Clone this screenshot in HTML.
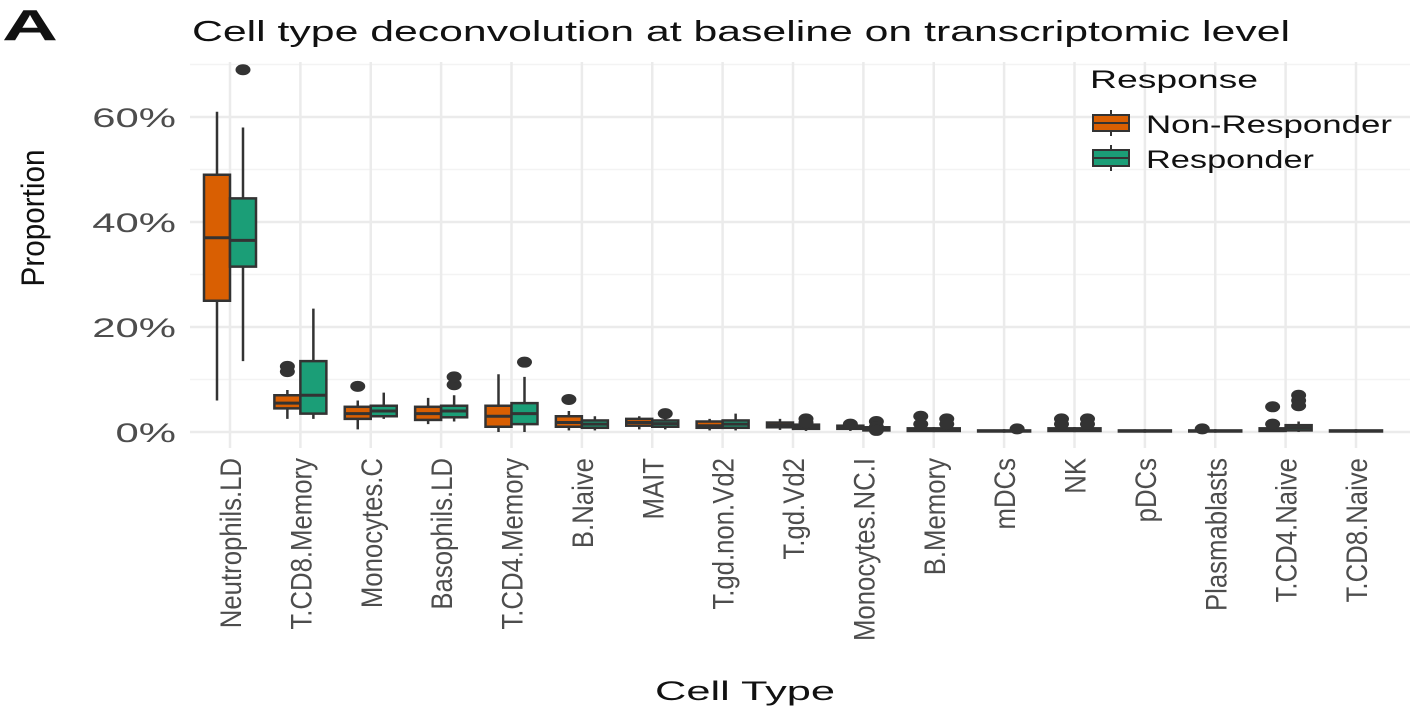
<!DOCTYPE html>
<html><head><meta charset="utf-8"><style>
body{margin:0;background:#fff;}
svg{display:block;font-family:"Liberation Sans",sans-serif;}
</style></head><body>
<svg id="c" width="1414" height="710">
<text x="2" y="40" font-size="44" font-weight="bold" fill="#111" textLength="56" lengthAdjust="spacingAndGlyphs">A</text>
<text x="192" y="41" font-size="29" fill="#111" textLength="1098" lengthAdjust="spacingAndGlyphs">Cell type deconvolution at baseline on transcriptomic level</text>
<text x="0" y="0" font-size="27" fill="#111" transform="translate(44,218) rotate(-90) scale(1.1,1.2)" text-anchor="middle">Proportion</text>
<text x="655" y="700" font-size="27" fill="#111" textLength="180" lengthAdjust="spacingAndGlyphs">Cell Type</text>
<g id="grid"></g><g id="marks"></g><g id="labels"></g>
<g>
<text x="1090" y="88" font-size="25" fill="#111" textLength="168" lengthAdjust="spacingAndGlyphs">Response</text>
<g>
<line x1="1111" y1="110" x2="1111" y2="136" stroke="#333" stroke-width="2"/>
<rect x="1093" y="115" width="36" height="16" fill="#D95F02" stroke="#333" stroke-width="2"/>
<line x1="1093" y1="123" x2="1129" y2="123" stroke="#333" stroke-width="2"/>
<text x="1146" y="133" font-size="25" fill="#111" textLength="246" lengthAdjust="spacingAndGlyphs">Non-Responder</text></g>
<g>
<line x1="1111" y1="145" x2="1111" y2="171" stroke="#333" stroke-width="2"/>
<rect x="1093" y="150" width="36" height="16" fill="#1B9E77" stroke="#333" stroke-width="2"/>
<line x1="1093" y1="158" x2="1129" y2="158" stroke="#333" stroke-width="2"/>
<text x="1146" y="168" font-size="25" fill="#111" textLength="168" lengthAdjust="spacingAndGlyphs">Responder</text></g>
</g>
</svg>
<script>
const categories=["Neutrophils.LD","T.CD8.Memory","Monocytes.C","Basophils.LD","T.CD4.Memory","B.Naive","MAIT","T.gd.non.Vd2","T.gd.Vd2","Monocytes.NC.I","B.Memory","mDCs","NK","pDCs","Plasmablasts","T.CD4.Naive","T.CD8.Naive"];
const yTicks=[0,20,40,60];
const yTickLabels=["0%","20%","40%","60%"];
// [whiskerLow, q1, median, q3, whiskerHigh]
const nonResponder=[[6,25,37,49,61],[2.5,4.5,5.5,7,8],[0.5,2.5,3.5,4.8,6],[1.5,2.3,3.5,4.8,6.5],[0,1,3,5,11],[0.3,1,1.8,3,4],[0.5,1.2,1.8,2.5,3],[0.3,0.8,1.2,2,2.5],[0.4,0.9,1.3,1.8,2.5],[0.2,0.6,0.9,1.2,1.5],[0,0.2,0.4,0.7,1],[0,0.1,0.2,0.3,0.4],[0,0.2,0.4,0.7,1],[0,0.1,0.2,0.3,0.4],[0,0.1,0.2,0.3,0.4],[0,0.2,0.4,0.7,1],[0,0.1,0.2,0.3,0.4]];
const responder=[[13.5,31.5,36.5,44.5,58],[2.5,3.5,7,13.5,23.5],[2.5,3,4,5,7.5],[2,2.8,4,5,7],[0,1.5,3.5,5.5,10.5],[0.3,0.8,1.5,2.2,3],[0.5,1,1.6,2.2,3.5],[0.3,0.8,1.5,2.2,3.5],[0.2,0.6,1,1.4,2],[0,0.3,0.6,0.9,1.2],[0,0.2,0.4,0.7,1],[0,0.1,0.2,0.3,0.4],[0,0.2,0.4,0.7,1],[0,0.1,0.2,0.3,0.4],[0,0.1,0.2,0.3,0.4],[0,0.3,0.8,1.3,2],[0,0.1,0.2,0.3,0.4]];
const nonResponderOutliers=[[],[11.5,12.5],[8.7],[],[],[6.2],[],[],[],[1.5],[3,1.5],[],[2.5,1.5],[],[0.6],[4.8,1.5],[]];
const responderOutliers=[[69],[],[],[9,10.5],[13.3],[],[3.5],[],[2.5,1.8],[2,1,0.3],[2.5,1.5],[0.6],[2.5,1.5],[],[],[7,6,5],[]];
const NS="http://www.w3.org/2000/svg";
const x0=190,x1=1410,yTop=62,yBot=448;
function y(v){return 432-v*5.25;}
function xc(i){return 230+i*(1356-230)/(categories.length-1);}
function mk(t,a,p){const e=document.createElementNS(NS,t);for(const k in a)e.setAttribute(k,a[k]);p.appendChild(e);return e;}
const grid=document.getElementById('grid'),marks=document.getElementById('marks'),labels=document.getElementById('labels');
for(let v=10;v<=70;v+=20){const g=mk('line',{x1:x0,x2:x1,y1:y(v),y2:y(v),stroke:'#f3f3f3','stroke-width':1.5},grid);

}
yTicks.forEach((v,i)=>{const g=mk('line',{x1:x0,x2:x1,y1:y(v),y2:y(v),stroke:'#ebebeb','stroke-width':2.5},grid);


const t=mk('text',{x:0,y:0,'font-size':27,fill:'#4d4d4d','text-anchor':'end',transform:`translate(176,${y(v)+10}) scale(1.55,1)`},labels);t.textContent=yTickLabels[i];

});
categories.forEach((c,i)=>{const g=mk('line',{x1:xc(i),x2:xc(i),y1:yTop,y2:yBot,stroke:'#ebebeb','stroke-width':2.5},grid);


const t=mk('text',{x:0,y:0,'font-size':25,fill:'#4d4d4d','text-anchor':'end',transform:`translate(${xc(i)+11},458) rotate(-90) scale(1.03,1.2)`},labels);t.textContent=c;

});
function box(cx,d,col,outs,name){const w=26,l=cx-w/2;
const g=mk('g',{},marks);


mk('line',{x1:cx,x2:cx,y1:y(d[0]),y2:y(d[4]),stroke:'#333','stroke-width':2.5},g);
mk('rect',{x:l,y:y(d[3]),width:w,height:Math.max(1,y(d[1])-y(d[3])),fill:col,stroke:'#333','stroke-width':2.5},g);
mk('line',{x1:l,x2:l+w,y1:y(d[2]),y2:y(d[2]),stroke:'#333','stroke-width':3},g);
outs.forEach(o=>mk('ellipse',{cx:cx,cy:y(o),rx:7.5,ry:5.5,fill:'#333'},g));}
categories.forEach((c,i)=>{
box(xc(i)-13,nonResponder[i],'#D95F02',nonResponderOutliers[i],'box-non-responder-'+c);
box(xc(i)+13,responder[i],'#1B9E77',responderOutliers[i],'box-responder-'+c);});
</script>
</body></html>
